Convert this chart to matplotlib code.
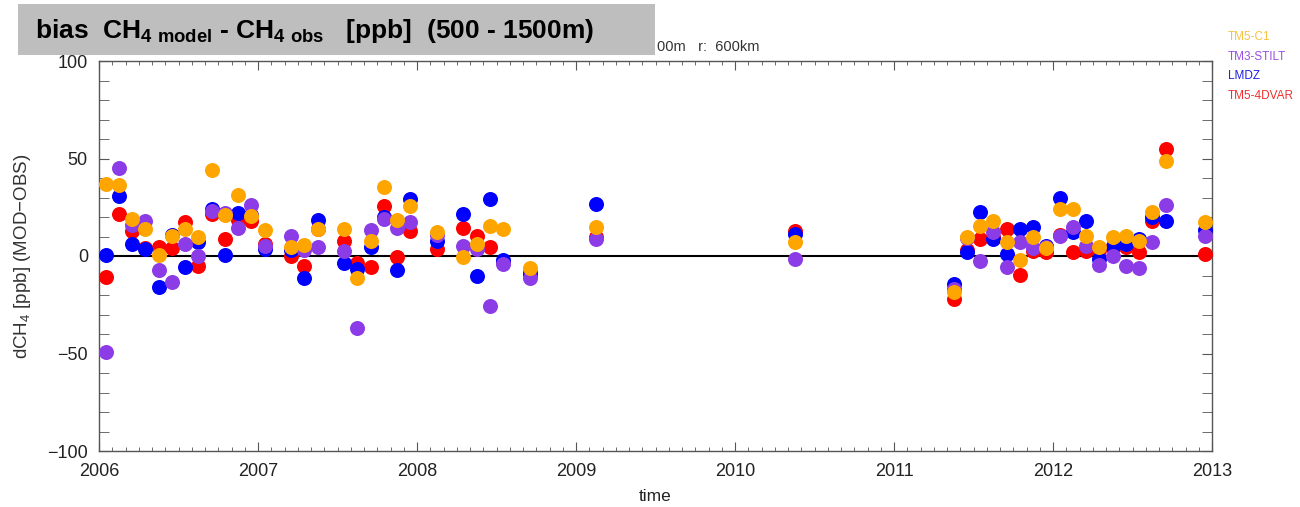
import matplotlib
matplotlib.use('Agg')
import matplotlib.pyplot as plt
from matplotlib.patches import Rectangle
from matplotlib.ticker import MultipleLocator

plt.rcParams['font.family'] = ['Liberation Sans', 'DejaVu Sans']
plt.rcParams['mathtext.fontset'] = 'custom'
plt.rcParams['mathtext.rm'] = 'Liberation Sans'
plt.rcParams['mathtext.bf'] = 'Liberation Sans:bold'

# ---------------- data ----------------
months = ['2006-01', '2006-02', '2006-03', '2006-04', '2006-05', '2006-06',
          '2006-07', '2006-08', '2006-09', '2006-10', '2006-11', '2006-12',
          '2007-01', '2007-03', '2007-04', '2007-05', '2007-07', '2007-08',
          '2007-09', '2007-10', '2007-11', '2007-12',
          '2008-02', '2008-04', '2008-05', '2008-06', '2008-07', '2008-09',
          '2009-02', '2010-05',
          '2011-05', '2011-06', '2011-07', '2011-08', '2011-09', '2011-10',
          '2011-11', '2011-12',
          '2012-01', '2012-02', '2012-03', '2012-04', '2012-05', '2012-06',
          '2012-07', '2012-08', '2012-09', '2012-12']

tm5_c1 = [37.1, 36.3, 19.1, 13.9, 0.5, 10.5, 13.9, 9.6, 44.1, 20.8, 31.1, 20.3,
          13.4, 4.4, 5.8, 13.9, 13.9, -11.4, 7.9, 35.4, 18.6, 25.5,
          12.2, -0.4, 6.2, 15.6, 13.9, -6.3,
          15.1, 7.0,
          -18.4, 9.9, 15.6, 18.2, 7.0, -2.1, 9.6, 4.1,
          24.3, 24.3, 10.5, 4.8, 9.6, 10.5, 7.9, 22.5, 48.9, 17.3]

tm3_stilt = [-49.0, 45.0, 16.0, 18.2, -7.3, -13.2, 6.2, 0.1, 23.0, 22.0, 14.4, 26.0,
             5.0, 10.5, 3.0, 4.4, 2.7, -37.0, 13.4, 19.1, 14.4, 17.3,
             11.0, 5.3, 3.6, -25.8, -3.9, -11.4,
             8.7, -1.6,
             -17.0, 9.0, -2.5, 12.2, -5.6, 7.0, 4.1, 4.5,
             10.5, 14.7, 5.3, -4.6, 0.1, -5.1, -6.3, 7.0, 26.0, 10.5]

lmdz = [0.6, 30.6, 6.4, 3.6, -15.9, 11.0, -5.6, 7.0, 24.3, 0.6, 22.0, 21.0,
        3.6, 3.0, -11.4, 18.6, -3.4, -6.8, 4.4, 20.0, -7.3, 29.4,
        7.9, 21.3, -10.2, 29.4, -2.0, -9.0,
        26.8, 11.3,
        -14.2, 2.3, 22.5, 8.7, 1.0, 13.9, 15.1, 5.3,
        30.0, 12.2, 17.8, -1.6, 4.4, 6.2, 8.7, 20.0, 18.2, 13.4]

tm5_4dvar = [-10.8, 21.3, 13.0, 4.0, 4.4, 4.1, 17.3, -5.1, 21.7, 8.7, 18.6, 18.2,
             6.2, 0.1, -5.1, 14.0, 7.5, -3.4, -5.6, 25.5, -0.3, 12.7,
             3.6, 14.4, 10.5, 4.4, -3.0, -8.0,
             10.0, 12.7,
             -21.8, 3.0, 8.7, 10.0, 13.9, -9.7, 2.7, 1.8,
             11.0, 1.8, 2.7, 3.0, 5.0, 4.8, 1.8, 18.2, 54.8, 1.0]

labels = ['TM5-C1', 'TM3-STILT', 'LMDZ', 'TM5-4DVAR']
year_ticks = [2006, 2007, 2008, 2009, 2010, 2011, 2012, 2013]
y_ticks = [-100, -50, 0, 50, 100]

# ---------------- figure ----------------
W, H = 1300, 507
fig = plt.figure(figsize=(W / 100, H / 100), dpi=100)
L, R, T, B = 99, 1212, 61, 451
ax = fig.add_axes([L / W, (H - B) / H, (R - L) / W, (B - T) / H])

t = [int(m[:4]) + (int(m[5:]) - 0.5) / 12 for m in months]

series = [(tm5_4dvar, '#FF0000'), (lmdz, '#0000FF'),
          (tm3_stilt, '#8C3CE6'), (tm5_c1, '#FFA500')]
for vals, col in series:
    ax.plot(t, vals, 'o', color=col, markersize=10.8, markeredgewidth=0,
            linestyle='none', zorder=3)

ax.axhline(0, color='black', linewidth=1.5, zorder=2)

ax.set_xlim(2006, 2013)
ax.set_ylim(-100, 100)
ax.set_xticks(year_ticks)
ax.set_xticklabels([str(y) for y in year_ticks])
ax.xaxis.set_minor_locator(MultipleLocator(1 / 12))
ax.set_yticks(y_ticks)
ax.set_yticklabels([str(v).replace('-', '\u2212') for v in y_ticks])
ax.yaxis.set_minor_locator(MultipleLocator(10))

frame_col = '#555555'
for s in ax.spines.values():
    s.set_color(frame_col)
    s.set_linewidth(1.0)
ax.tick_params(axis='both', which='both', direction='in', top=True, right=True,
               color=frame_col, labelcolor='#222222', labelsize=13)
ax.tick_params(axis='x', which='major', length=6.5, pad=9)
ax.tick_params(axis='x', which='minor', length=3)
ax.tick_params(axis='y', which='major', length=7.2, pad=8)
ax.tick_params(axis='y', which='minor', length=7.2)

ax.set_xlabel('time', fontsize=12.5, color='#222222', labelpad=6)
ax.set_ylabel('dCH$_4$ [ppb] (MOD$-$OBS)', fontsize=13.5, color='#333333', labelpad=10)

# legend-like labels at top right
leg_cols = ['#F5C242', '#9A4FE0', '#2020E0', '#F03030']
for i, (lab, c) in enumerate(zip(labels, leg_cols)):
    fig.text(1228 / W, 1 - (37 + 19.7 * i) / H, lab, color=c, fontsize=8.5,
             ha='left', va='center')

# partially hidden subtitle
fig.text(657 / W, 1 - 47 / H, '00m   r:  600km', fontsize=10.5, color='#333333',
         ha='left', va='center')

# grey title box
fig.patches.append(Rectangle((18 / W, 1 - 55 / H), (655 - 18) / W, (55 - 4) / H,
                             transform=fig.transFigure, facecolor='#BEBEBE',
                             edgecolor='none', zorder=5))
fig.text(35 / W, 1 - 31 / H,
         r'bias  CH$_\mathbf{4\ model}$ - CH$_\mathbf{4\ obs}$   [ppb]  (500 - 1500m)',
         fontsize=19, fontweight='bold', color='black', ha='left', va='center',
         zorder=6)

fig.savefig('out.png', dpi=100)
